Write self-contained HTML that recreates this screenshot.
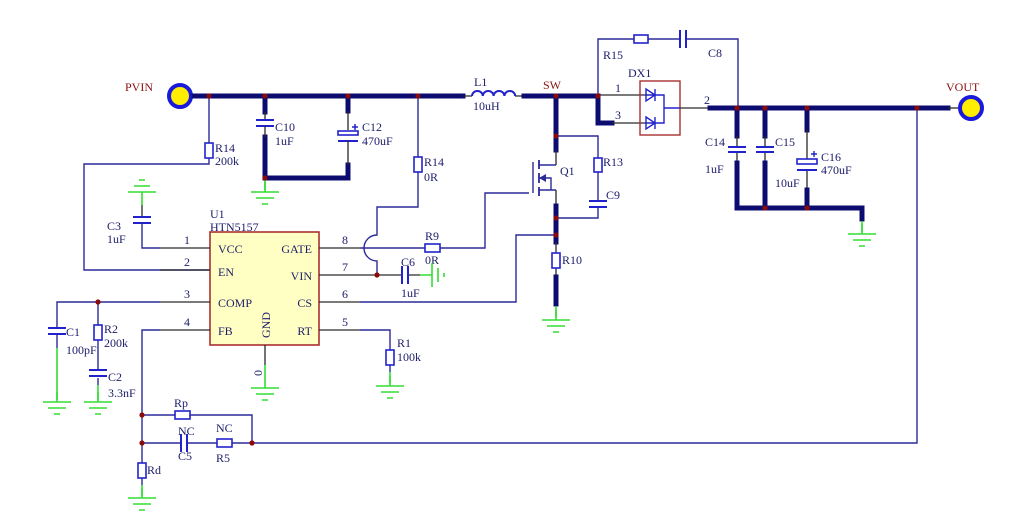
<!DOCTYPE html>
<html><head><meta charset="utf-8"><style>
html,body{margin:0;padding:0;background:#fff;}
svg{display:block;}
text{font-family:"Liberation Serif",serif;font-size:12px;fill:#1c1c6a;}
.t{stroke:#2a2a9a;stroke-width:1.4;fill:none;}
.k{stroke:#2a2a2a;stroke-width:1.3;fill:none;}
.b{stroke:#0c0c70;stroke-width:5;fill:none;stroke-linecap:square;}
.c{stroke:#2222cc;stroke-width:2;fill:none;}
.r{stroke:#2222cc;stroke-width:1.6;fill:#fff;}
.g{stroke:#33dd33;stroke-width:1.6;fill:none;}
.d{fill:#8b0a0a;}
.red{fill:#8b1010;}
</style></head><body>
<svg width="1015" height="531" viewBox="0 0 1015 531" xmlns="http://www.w3.org/2000/svg">
<defs>
<g id="gnd"><path class="g" d="M0,-10V0M-14,0H14M-9,6H9M-3,12H3"/></g>
</defs>

<!-- PVIN -->
<circle cx="180" cy="96" r="11" fill="#ffee00" stroke="#1a1adc" stroke-width="4"/>
<text x="125" y="91" class="red" style="fill:#8b1010">PVIN</text>
<path class="b" d="M194,96H463"/>
<path class="k" d="M463,96H472M515,96H522"/>
<path class="c" d="M472,96a5.4,5 0 0 1 10.8,0a5.4,5 0 0 1 10.8,0a5.4,5 0 0 1 10.8,0a5.4,5 0 0 1 10.8,0"/>
<text x="474" y="86">L1</text><text x="473" y="110">10uH</text>
<path class="b" d="M524,96H598V123H612"/>
<text x="543" y="89" style="fill:#8b1010">SW</text>

<!-- C10 C12 -->
<path class="b" d="M265,96V112"/><path class="k" d="M265,112V120"/>
<path class="c" d="M256,120H274M256,126H274"/>
<path class="b" d="M265,137V178H348V165"/><path class="k" d="M265,126V137M348,155V165"/>
<path class="b" d="M348,96V111"/><path class="k" d="M348,111V130"/>
<rect x="338" y="131" width="20" height="4" class="r"/><path class="c" d="M338,141H358"/>
<path class="c" d="M355,124V130M352,127H358" style="stroke-width:1.5"/>
<path class="k" d="M348,141V155"/>
<text x="275" y="131">C10</text><text x="275" y="145">1uF</text>
<text x="362" y="131">C12</text><text x="362" y="145">470uF</text>
<path class="g" d="M265,180V190"/><use href="#gnd" x="265" y="192"/>

<!-- R14 200k -->
<path class="t" d="M209,96V143M209,158V164H84V270H210"/>
<rect x="205" y="143" width="8" height="15" class="r"/>
<text x="215" y="152">R14</text><text x="215" y="165">200k</text>

<!-- R14 0R -->
<path class="t" d="M418,96V157M418,172V207H377V235A13,13 0 0 0 377,261V275"/>
<rect x="414" y="157" width="8" height="15" class="r"/>
<text x="424" y="166">R14</text><text x="424" y="181">0R</text>

<!-- chip -->
<rect x="210" y="232" width="109" height="113" fill="#ffffc4" stroke="#a83030" stroke-width="1.6"/>
<text x="210" y="218">U1</text><text x="210" y="231">HTN5157</text>
<path class="k" d="M160,248H210M160,270H210M160,302H210M160,330H210M319,248H360M319,275H360M319,302H360M319,330H360M265,345V365"/>
<text x="184" y="244">1</text><text x="184" y="266">2</text><text x="184" y="298">3</text><text x="184" y="326">4</text>
<text x="342" y="244">8</text><text x="342" y="271">7</text><text x="342" y="298">6</text><text x="342" y="326">5</text>
<text x="218" y="253">VCC</text><text x="218" y="276">EN</text><text x="218" y="307">COMP</text><text x="218" y="335">FB</text>
<text x="312" y="253" text-anchor="end">GATE</text><text x="312" y="280" text-anchor="end">VIN</text><text x="312" y="307" text-anchor="end">CS</text><text x="312" y="335" text-anchor="end">RT</text>
<text transform="translate(270,338) rotate(-90)">GND</text>
<text transform="translate(262,376) rotate(-90)">0</text>
<path class="g" d="M265,365V378"/><use href="#gnd" x="265" y="388"/>

<!-- C3 -->
<path class="g" d="M142,192V205M128,192H156M134,186H150M139,180H145"/>
<path class="k" d="M142,205V217"/>
<path class="c" d="M133,217H151M133,223H151"/>
<path class="t" d="M142,223V248H160"/>
<text x="107" y="230">C3</text><text x="107" y="243">1uF</text>

<!-- GATE / R9 -->
<path class="t" d="M360,248H425M440,248H485V193H529"/>
<rect x="425" y="244" width="15" height="8" class="r"/>
<text x="425" y="240">R9</text><text x="425" y="264">0R</text>
<!-- VIN / C6 -->
<path class="k" d="M360,275H402M409,275H420"/>
<path class="c" d="M402,266V284M408,266V284"/>
<path class="g" d="M420,275H432M432,263V287M438,268V282M444,273V277"/>
<text x="401" y="266">C6</text><text x="401" y="297">1uF</text>
<!-- CS -->
<path class="t" d="M360,302H516V235H556"/>
<!-- RT / R1 -->
<path class="t" d="M360,330H390V350M390,365V372"/>
<rect x="386" y="350" width="8" height="15" class="r"/>
<path class="g" d="M390,372V383"/><use href="#gnd" x="390" y="386"/>
<text x="397" y="347">R1</text><text x="397" y="361">100k</text>

<!-- COMP network -->
<path class="t" d="M160,302H57V328M98,302V325M98,340V370M57,335V348M98,378V385"/>
<path class="c" d="M48,328H66M48,334H66M89,370H107M89,376H107"/>
<rect x="94" y="325" width="8" height="15" class="r"/>
<path class="g" d="M57,348V400M98,385V400"/><use href="#gnd" x="57" y="402"/><use href="#gnd" x="98" y="402"/>
<text x="66" y="336">C1</text><text x="66" y="354">100pF</text>
<text x="104" y="333">R2</text><text x="104" y="347">200k</text>
<text x="108" y="381">C2</text><text x="108" y="397">3.3nF</text>

<!-- FB network -->
<path class="t" d="M160,330H142V463M142,478V485M142,415H175M190,415H252V443M142,443H181M187,443H217M232,443H917V108"/>
<rect x="175" y="411" width="15" height="8" class="r"/>
<rect x="217" y="439" width="15" height="8" class="r"/>
<rect x="138" y="463" width="8" height="15" class="r"/>
<path class="c" d="M181,434V452M187,434V452"/>
<path class="g" d="M142,485V496"/><use href="#gnd" x="142" y="498"/>
<text x="174" y="407">Rp</text><text x="178" y="435">NC</text><text x="178" y="460">C5</text>
<text x="216" y="432">NC</text><text x="216" y="462">R5</text><text x="147" y="474">Rd</text>

<!-- Q1 -->
<path class="b" d="M556,96V150"/><path class="k" d="M556,150V165"/>
<path class="t" d="M533,162V193M556,165H539M556,190H539M539,178H551V190"/>
<path class="t" d="M539,160V169M539,173V183M539,187V196" style="stroke-width:1.8"/>
<path d="M539,178l7,-4v8z" fill="#2a2a9a"/>
<path class="k" d="M556,190V205"/>
<path class="b" d="M556,206V242"/><path class="k" d="M556,242V253M556,268V276"/>
<rect x="552" y="253" width="8" height="15" class="r"/>
<path class="b" d="M556,277V304"/>
<path class="g" d="M556,306V317"/><use href="#gnd" x="556" y="320"/>
<text x="560" y="175">Q1</text><text x="562" y="264">R10</text>
<path class="t" d="M556,136H598V158M598,172V201M598,207V218H556"/>
<rect x="594" y="158" width="8" height="14" class="r"/>
<path class="c" d="M589,201H607M589,207H607"/>
<text x="603" y="166">R13</text><text x="606" y="199">C9</text>

<!-- snubber -->
<path class="t" d="M598,96V39H634M648,39H680M686,39H738V108"/>
<rect x="634" y="35" width="14" height="8" class="r"/>
<path class="c" d="M680,30V48M686,30V48"/>
<text x="603" y="59">R15</text><text x="708" y="57">C8</text>

<!-- DX1 -->
<path class="k" d="M598,95H645M612,123H645"/>
<rect x="640" y="81" width="40" height="54" fill="none" stroke="#a83030" stroke-width="1.4"/>
<path class="t" d="M645,95H657M645,123H657M657,95H664V123H657M664,108H680M646,89l9,6l-9,6zM655,89V101M646,117l9,6l-9,6zM655,117V129" style="stroke:#2222cc"/>
<text x="628" y="77">DX1</text><text x="615" y="92">1</text><text x="615" y="119">3</text><text x="704" y="104">2</text>
<path class="k" d="M680,108H708"/>
<path class="b" d="M710,108H948"/><path class="k" d="M948,108H959"/>
<circle cx="971" cy="108" r="11" fill="#ffee00" stroke="#1a1adc" stroke-width="4"/>
<text x="946" y="91" style="fill:#8b1010">VOUT</text>

<!-- output caps -->
<path class="b" d="M737,108V136M765,108V136M807,108V130"/>
<path class="k" d="M737,136V147M765,136V147M737,152V162M765,152V162M807,130V161M807,170V189"/>
<path class="c" d="M728,147H746M728,152H746M756,147H774M756,152H774M797,170H817"/>
<rect x="797" y="159" width="20" height="5" class="r"/>
<path class="c" d="M814,151V157M811,154H817" style="stroke-width:1.4"/>
<path class="b" d="M737,163V208H862V219M765,163V208M807,190V208"/>
<path class="g" d="M862,221V232"/><use href="#gnd" x="862" y="234"/>
<text x="705" y="146">C14</text><text x="705" y="173">1uF</text>
<text x="775" y="146">C15</text><text x="775" y="187">10uF</text>
<text x="821" y="161">C16</text><text x="821" y="174">470uF</text>

<!-- dots -->
<g class="d">
<circle cx="209" cy="96" r="2.6"/><circle cx="265" cy="96" r="2.6"/><circle cx="348" cy="96" r="2.6"/><circle cx="418" cy="96" r="2.6"/>
<circle cx="265" cy="178" r="2.6"/><circle cx="377" cy="275" r="2.6"/><circle cx="98" cy="302" r="2.6"/>
<circle cx="142" cy="415" r="2.6"/><circle cx="142" cy="443" r="2.6"/><circle cx="252" cy="443" r="2.6"/>
<circle cx="556" cy="96" r="2.6"/><circle cx="598" cy="96" r="2.6"/><circle cx="556" cy="136" r="2.6"/>
<circle cx="556" cy="218" r="2.6"/><circle cx="556" cy="235" r="2.6"/>
<circle cx="737" cy="108" r="2.6"/><circle cx="765" cy="108" r="2.6"/><circle cx="807" cy="108" r="2.6"/><circle cx="917" cy="108" r="2.6"/>
<circle cx="765" cy="208" r="2.6"/><circle cx="807" cy="208" r="2.6"/>
</g>
</svg>
</body></html>
